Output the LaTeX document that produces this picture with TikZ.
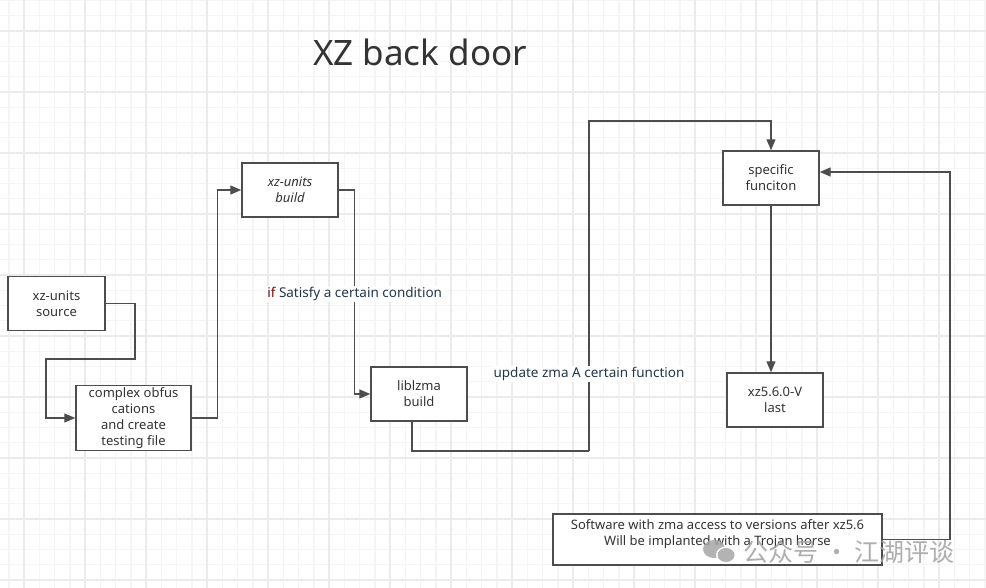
\documentclass[tikz,border=0pt]{standalone}
\usepackage{fontspec}
\setmainfont{Noto Sans}
\newfontfamily\cjkfont{Noto Sans CJK SC}
\usepackage{tikz}
\usetikzlibrary{arrows.meta,positioning,calc}
\definecolor{ink}{HTML}{333333}
\definecolor{edge}{HTML}{4D4D4D}
\definecolor{navy}{HTML}{24364A}
\definecolor{maroon}{HTML}{6A0A0A}
\definecolor{gridlo}{HTML}{F5F5F5}
\definecolor{gridhi}{HTML}{EBEBEB}
\definecolor{wmgray}{HTML}{A6A6A6}
\tikzset{
  stepbox/.style={
    rectangle, draw=edge, fill=white, line width=1.4pt,
    minimum width=#1, minimum height=54pt,
    font=\fontsize{13}{16}\selectfont, text=ink, align=center,
    inner sep=2pt
  },
  stepbox/.default=96pt,
  flow/.style={
    -{Triangle[length=11pt,width=9pt]}, line width=1.3pt, color=edge
  },
  wire/.style={
    line width=1.3pt, color=edge
  },
  lbl/.style={
    fill=white, inner sep=1pt, font=\fontsize{13.5}{15}\selectfont, text=navy
  },
}

\begin{document}
\begin{tikzpicture}[x=1pt, y=-1pt]
  \useasboundingbox[fill=white] (0,0) rectangle (986,588);

  % grid
  \foreach \k in {-2,...,63}
    \draw[gridlo, line width=1.2pt] ({24.3+15.25*\k},0) -- ({24.3+15.25*\k},588);
  \foreach \k in {-3,...,38}
    \draw[gridlo, line width=1.2pt] (0,{31+15.25*\k}) -- (986,{31+15.25*\k});
  \foreach \k in {0,...,15}
    \draw[gridhi, line width=1.8pt] ({24.3+61*\k},0) -- ({24.3+61*\k},588);
  \foreach \k in {0,...,9}
    \draw[gridhi, line width=1.8pt] (0,{31+61*\k}) -- (986,{31+61*\k});

  % title
  \node[text=ink, font=\fontsize{35}{40}\selectfont] (title) at (420,52) {XZ back door};

  % boxes
  \node[stepbox=97pt] (src) at (56.5,303.5) {xz-units\\source};
  \node[stepbox=115pt, minimum height=64pt] (obf) at (133.5,418)
    {complex obfus\\cations\\and create\\testing file};
  \node[stepbox, font=\fontsize{13}{16}\selectfont\itshape] (bld) at (290,190) {xz-units\\build};
  \node[stepbox] (lib) at (419,394) {liblzma\\build};
  \node[stepbox] (spec) at (771,178) {specific\\funciton};
  \node[stepbox] (last) at (775,400) {xz5.6.0-V\\last};
  \node[stepbox=329pt, minimum height=51pt, text depth=13pt] (soft) at (717.5,539.5)
    {Software with zma access to versions after xz5.6\\Will be implanted with a Trojan horse};

  % connectors
  \coordinate (k1) at (135,359);
  \coordinate (k2) at (46,359);
  \draw[flow] (src.east) -| (k1) -- (k2) |- (obf.west);
  \draw[flow] (obf.east) -- ++(26,0) |- (bld.west);
  \draw[flow] (bld.east) -- ++(16,0) |- (lib.west)
    node[lbl, pos=0.255] {\textcolor{maroon}{if} Satisfy a certain condition};

  \coordinate (u1) at (589,451);
  \coordinate (u2) at (589,121);
  \draw[wire] ([xshift=-7pt]lib.south) |- (u1);
  \draw[flow] (u1) -- (u2)
    node[lbl, pos=0.233] {update zma A certain function}
    -| (spec.north);
  \draw[flow] (spec.south) -- (spec.south |- last.north);

  \coordinate (r1) at (950,172);
  \draw[flow] (soft.east) -| (r1) -- (spec.east |- r1);

  % watermark
  \fill[wmgray, opacity=0.85] (714,549) ellipse [x radius=11, y radius=9];
  \fill[white] (726,555) ellipse [x radius=10, y radius=8.5];
  \fill[wmgray, opacity=0.85] (726,555) ellipse [x radius=8.5, y radius=7];
  \node[text=wmgray, opacity=0.9, font=\cjkfont\fontsize{25}{28}\selectfont, anchor=west] (wm) at (740,552)
    {公众号 · 江湖评谈};
\end{tikzpicture}
\end{document}
